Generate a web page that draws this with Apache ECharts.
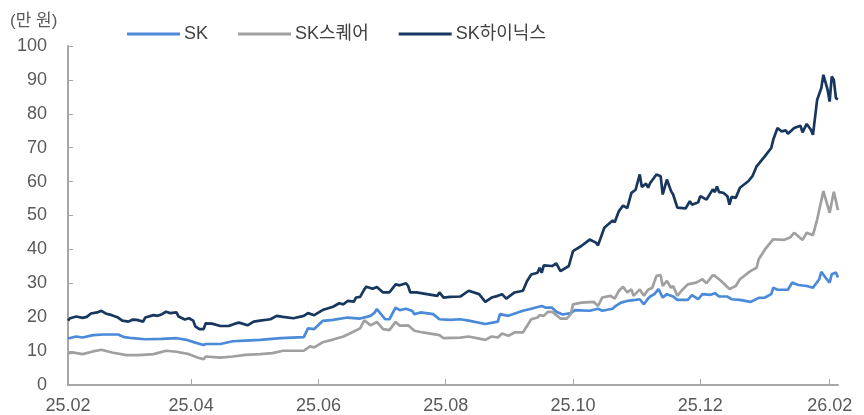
<!DOCTYPE html>
<html>
<head>
<meta charset="utf-8">
<script src="https://cdn.jsdelivr.net/npm/echarts@6.0.0/dist/echarts.min.js"></script>
<style>
html,body{margin:0;padding:0;background:#fff;}
#chart{width:864px;height:415px;}
</style>
</head>
<body>
<div id="chart"></div>
<script>
// x = days since 2025-02-01
var monthDays = [0, 59, 120, 181, 242, 303, 365];
var monthLabels = ['25.02', '25.04', '25.06', '25.08', '25.10', '25.12', '26.02'];

var skDays = [0,4,7,12,17,24,27,31,37,45,52,57,61,65,66,73,79,85,92,
  102,113,115,118,122,127,134,140,145,147,148,150,152,154,157,159,162,165,166,169,175,178,183,188,
  192,200,206,207,211,218,222,227,229,232,234,237,241,243,250,254,256,261,262,265,268,272,274,276,
  278,279,281,283,285,287,290,292,297,299,302,304,308,310,312,316,318,322,327,331,334,337,338,340,345,347,350,354,357,360,361,363,365,366,368,369];
var skVals = [13.7,14.3,14.0,14.7,14.9,14.9,14.1,13.8,13.5,13.6,13.8,13.3,12.5,11.8,12.1,12.1,12.9,13.1,13.3,
  13.8,14.1,16.7,16.5,18.9,19.2,19.9,19.6,20.4,21.4,22.4,20.9,19.4,19.4,22.8,22.1,22.5,21.8,20.9,21.4,20.9,19.4,19.2,19.4,
  19.0,18.0,18.7,20.9,20.4,21.9,22.5,23.3,22.8,22.8,21.6,20.8,21.2,22.1,21.9,22.5,21.9,22.5,23.1,24.3,24.8,25.1,25.3,23.8,
  25.5,26.1,26.8,28.3,25.8,26.8,26.1,25.1,25.1,26.5,25.3,26.8,26.6,27.1,26.1,26.1,25.3,25.1,24.5,25.7,25.8,26.8,28.7,28.1,28.1,30.2,29.5,29.2,28.7,31.2,33.4,31.7,30.2,32.7,33.2,31.7];

var sqDays = [0,2,7,12,16,21,28,34,41,47,52,58,62,65,66,73,79,85,92,
  98,103,113,116,118,122,127,132,136,140,142,145,148,151,154,157,159,163,166,170,178,180,188,
  192,197,200,203,206,208,211,214,218,222,225,226,228,230,232,234,236,239,241,242,246,252,254,256,260,262,264,266,268,270,271,274,276,277,
  278,280,282,284,285,287,289,290,292,294,297,301,304,306,309,310,313,317,320,322,327,330,331,334,338,343,346,348,352,354,357,359,362,365,367,369];
var sqVals = [9.3,9.6,9.1,9.9,10.4,9.6,8.8,8.8,9.1,10.1,9.8,9.1,8.1,7.6,8.4,8.1,8.4,8.9,9.1,
  9.4,10.1,10.1,11.4,11.1,12.6,13.4,14.3,15.5,16.7,19.1,17.6,18.6,16.5,16.2,18.6,17.5,17.6,16.0,15.5,14.7,13.8,14.0,
  14.3,13.7,13.3,14.3,14.0,15.2,14.5,15.5,15.5,19.4,19.9,20.6,20.4,21.6,21.6,20.6,19.6,19.6,20.9,23.8,24.3,24.5,23.3,25.8,26.3,25.5,27.8,29.0,27.3,28.2,26.3,28.2,26.3,27.3,
  28.1,28.7,32.2,32.4,29.2,30.7,28.7,29.2,26.3,27.8,29.7,30.2,31.2,30.0,32.4,32.2,30.7,28.3,29.2,31.2,33.6,34.6,37.1,40.0,43.0,42.8,43.5,44.9,42.8,44.9,44.2,48.8,57.2,50.8,57.0,51.6];

var hxDays = [0,1,4,7,9,11,14,16,18,21,24,26,29,31,33,36,37,41,43,45,47,49,52,53,56,58,60,61,63,65,66,69,73,77,80,82,86,89,92,
  97,100,103,108,113,115,118,122,127,130,132,134,137,138,140,142,143,146,148,151,154,157,159,162,163,164,167,172,177,178,180,183,188,
  192,197,200,203,206,208,210,214,218,220,222,225,226,227,228,232,234,236,240,242,246,250,253,254,257,261,262,264,266,268,270,272,274,
  275,277,278,279,282,284,285,287,289,290,292,296,298,299,302,303,306,309,310,311,312,314,316,317,318,320,322,326,328,330,334,337,338,340,342,344,345,348,351,352,354,356,357,359,361,362,364,365,366,367,368,369];
var hxVals = [19.0,19.7,20.2,19.8,20.1,21.1,21.4,21.9,21.1,20.6,19.9,19.0,18.7,19.3,19.2,18.7,19.9,20.6,20.4,20.9,21.6,21.2,21.4,20.2,19.3,19.7,19.0,17.3,16.5,16.5,18.2,18.1,17.4,17.4,18.1,18.4,17.6,18.7,19.0,
  19.4,20.4,20.1,19.7,20.4,21.2,20.6,22.1,23.1,24.1,23.8,24.8,24.6,25.8,26.0,28.2,29.0,28.4,28.9,27.3,27.3,29.7,29.4,30.0,29.2,27.3,27.3,26.8,26.3,27.3,25.8,26.0,26.1,
  27.8,26.8,24.5,25.8,26.3,26.8,25.5,27.3,27.8,30.7,32.6,33.1,34.6,33.1,35.3,35.1,35.9,33.6,35.1,39.5,41.0,42.9,42.0,41.2,46.4,48.5,48.0,51.3,52.9,52.2,56.7,57.6,62.1,
  58.4,59.4,58.2,59.6,62.1,61.6,56.2,60.6,57.2,56.2,52.3,52.1,54.2,53.2,53.9,55.7,54.7,57.7,56.9,58.6,56.9,56.7,55.7,53.2,55.5,55.2,58.2,60.1,61.6,64.5,67.5,69.9,72.4,75.8,74.8,75.1,74.1,75.8,76.5,74.5,77.0,75.3,73.8,84.1,87.6,91.5,87.1,83.6,91.0,90.0,84.6,84.3];

function pairs(days, vals) {
  var out = [];
  for (var i = 0; i < days.length; i++) out.push([days[i], vals[i]]);
  return out;
}

var textFont = "'Liberation Sans', 'Noto Sans CJK KR', sans-serif";
var chart = echarts.init(document.getElementById('chart'));

var option = {
  animation: false,
  textStyle: { fontFamily: textFont },
  grid: { left: 68, right: 26, top: 46, bottom: 29, containLabel: false },
  graphic: [{
    type: 'text', left: 10, top: 13,
    style: { text: '(만 원)', fill: '#595959', font: '17px ' + textFont }
  }],
  legend: {
    left: 122, top: 20,
    itemWidth: 53, itemHeight: 3, itemGap: 30,
    icon: 'rect',
    textStyle: { color: '#404040', fontSize: 18, padding: [0, 0, 0, -1] },
    data: ['SK', 'SK스퀘어', 'SK하이닉스']
  },
  xAxis: {
    type: 'value', min: 0, max: 369,
    splitLine: { show: false },
    axisLine: { lineStyle: { color: '#a6a6a6', width: 2 } },
    axisTick: { inside: true, length: 6, customValues: monthDays, lineStyle: { color: '#a6a6a6', width: 1 } },
    axisLabel: {
      customValues: monthDays,
      color: '#595959', fontSize: 18, margin: 12,
      formatter: function (v) {
        var i = monthDays.indexOf(v);
        return i >= 0 ? monthLabels[i] : '';
      }
    }
  },
  yAxis: {
    type: 'value', min: 0, max: 100, interval: 10,
    splitLine: { show: false },
    axisLine: { show: true, lineStyle: { color: '#a6a6a6', width: 2 } },
    axisTick: { show: true, inside: true, length: 5, lineStyle: { color: '#a6a6a6', width: 1 } },
    axisLabel: { color: '#595959', fontSize: 18, margin: 21 }
  },
  series: [
    { name: 'SK', type: 'line', data: pairs(skDays, skVals), showSymbol: false,
      color: '#4a8ad9', lineStyle: { width: 2.7 } },
    { name: 'SK스퀘어', type: 'line', data: pairs(sqDays, sqVals), showSymbol: false,
      color: '#a0a0a0', lineStyle: { width: 2.7 } },
    { name: 'SK하이닉스', type: 'line', data: pairs(hxDays, hxVals), showSymbol: false,
      color: '#17375e', lineStyle: { width: 2.7 } }
  ]
};

chart.setOption(option);
</script>
</body>
</html>
